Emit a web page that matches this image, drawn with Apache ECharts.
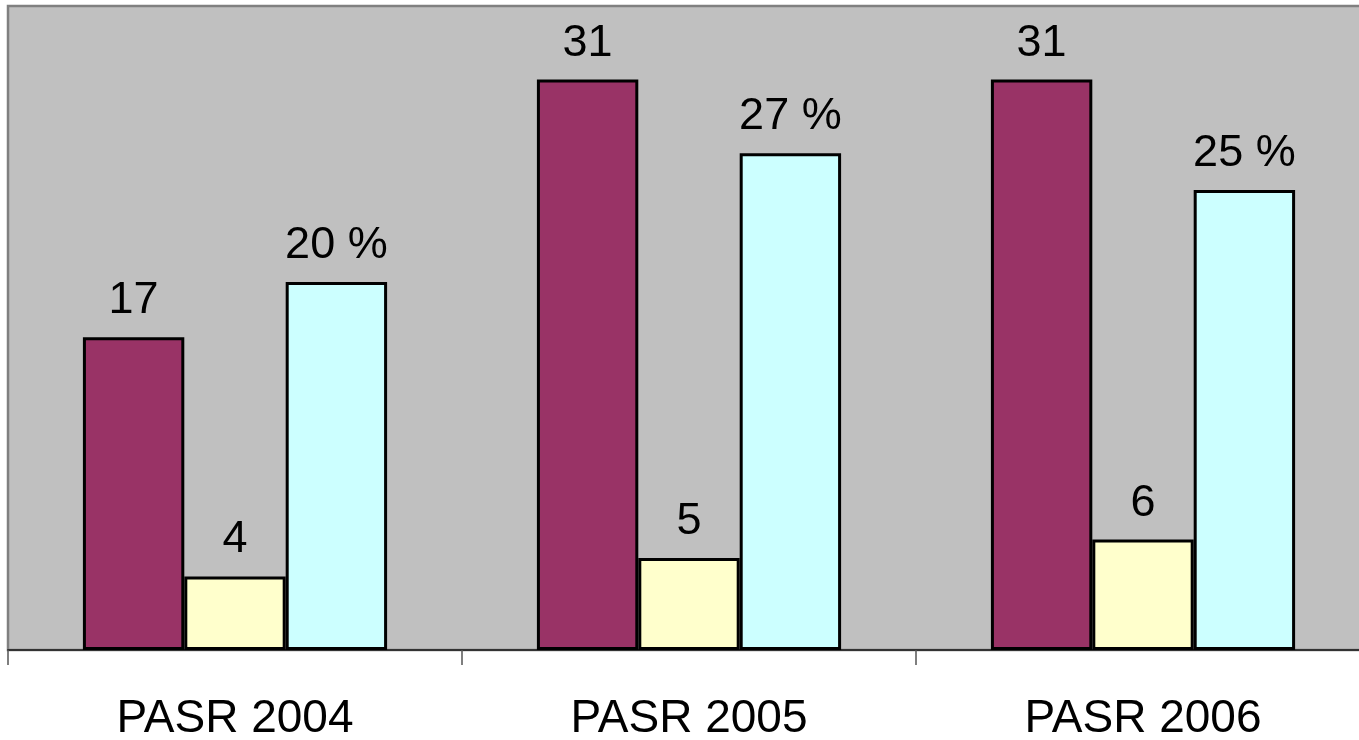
<!DOCTYPE html>
<html>
<head>
<meta charset="utf-8">
<script src="https://cdn.jsdelivr.net/npm/echarts@6/dist/echarts.min.js"></script>
<style>
html,body{margin:0;padding:0;background:#fff;overflow:hidden;}
#chart{width:1359px;height:740px;}
</style>
</head>
<body>
<div id="chart"></div>
<script>
var categories = ['PASR 2004', 'PASR 2005', 'PASR 2006'];
var seriesA = [17, 31, 31];
var seriesB = [4, 5, 6];
var seriesC = [20, 27, 25];

var chart = echarts.init(document.getElementById('chart'));
var labelStyle = {
  show: true,
  position: 'top',
  distance: 14,
  color: '#000',
  fontFamily: 'Liberation Sans, Arial, sans-serif',
  fontSize: 45
};
function bar(data, color, fmt) {
  return {
    type: 'bar',
    data: data,
    barGap: '0%',
    barCategoryGap: '33%',
    itemStyle: { color: color, borderColor: '#000', borderWidth: 3 },
    label: Object.assign({}, labelStyle, fmt ? { formatter: fmt } : {})
  };
}
chart.setOption({
  animation: false,
  grid: {
    left: 8, top: 6, bottom: 90, width: 1362,
    outerBoundsMode: 'none',
    containLabel: false,
    show: true,
    backgroundColor: '#C0C0C0',
    borderColor: '#808080',
    borderWidth: 2.5
  },
  xAxis: {
    type: 'category',
    data: categories,
    axisLine: { show: true, lineStyle: { color: '#333', width: 2 } },
    axisTick: { show: true, length: 15, lineStyle: { color: '#555', width: 1.5 } },
    axisLabel: {
      color: '#000',
      fontFamily: 'Liberation Sans, Arial, sans-serif',
      fontSize: 46,
      margin: 46
    }
  },
  yAxis: {
    type: 'value',
    min: 0,
    max: 35,
    axisLine: { show: false },
    axisTick: { show: false },
    axisLabel: { show: false },
    splitLine: { show: false }
  },
  series: [
    bar(seriesA, '#993366'),
    bar(seriesB, '#FFFFCC'),
    bar(seriesC, '#CCFFFF', '{c} %')
  ]
});
</script>
</body>
</html>
